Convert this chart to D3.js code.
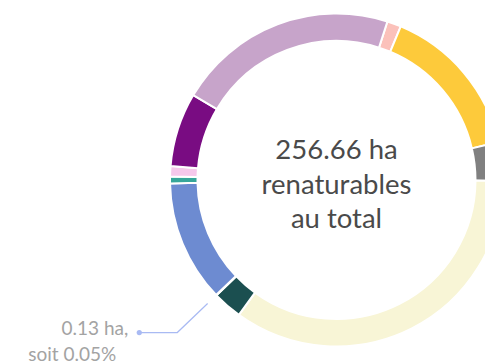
<!DOCTYPE html>
<html>
<head>
<meta charset="utf-8">
<script src="https://cdn.jsdelivr.net/npm/d3@7"></script>
<style>
  html, body { margin: 0; padding: 0; background: #fff; }
  svg { display: block; font-family: Lato, "Open Sans", sans-serif; }
</style>
</head>
<body>
<svg id="chart" width="485" height="363"></svg>
<script>
// Surfaces renaturables par catégorie (ha), ordre horaire
const categories = [
  "Catégorie 1", "Catégorie 2", "Catégorie 3", "Catégorie 4", "Catégorie 5",
  "Catégorie 6", "Catégorie 7", "Catégorie 8", "Catégorie 9", "Catégorie 10",
  "Catégorie 11"
];
const surfaces = [3.5, 38.6, 9.55, 89.58, 7.3, 0.13, 30.3, 1.7, 2.6, 18.4, 55.0];
const colors = [
  "#fbc1ba", "#fdca3b", "#808080", "#f8f5d6", "#1b4f50",
  "#a9baf3", "#6d8bd1", "#36a69a", "#f6c8eb", "#790c82", "#c7a4ca"
];
// Index de la tranche annotée
const labelledIndex = 5;

const width = 485, height = 363;
const cx = 336.5, cy = 180;
const outerR = 166.5, innerR = 139;
const startDeg = 17.8;

const svg = d3.select("#chart");
const total = d3.sum(surfaces);
const fmt = d3.format(".2f");

const data = categories.map((c, i) => ({ name: c, value: surfaces[i], color: colors[i] }));

const pie = d3.pie()
  .value(d => d.value)
  .sort(null)
  .startAngle(startDeg * Math.PI / 180)
  .endAngle(startDeg * Math.PI / 180 + 2 * Math.PI);

const arc = d3.arc().innerRadius(innerR).outerRadius(outerR);

const g = svg.append("g").attr("transform", `translate(${cx},${cy})`);

const arcs = pie(data);

g.selectAll("path.slice")
  .data(arcs)
  .join("path")
  .attr("class", "slice")
  .attr("d", arc)
  .attr("fill", d => d.data.color)
  .attr("stroke", "#fff")
  .attr("stroke-width", 2)
  .attr("stroke-linejoin", "round");

// Texte central
const center = g.append("text")
  .attr("text-anchor", "middle")
  .attr("fill", "#4a4a4a")
  .style("font-size", "27.5px");
const centerLines = [fmt(total) + " ha", "renaturables", "au total"];
centerLines.forEach((t, i) => {
  center.append("tspan")
    .attr("x", 0)
    .attr("y", -21 + i * 34.5)
    .text(t);
});

// Étiquette de la petite tranche avec ligne de rappel
const a = arcs[labelledIndex];
const mid = (a.startAngle + a.endAngle) / 2;
const polar = r => [r * Math.sin(mid), -r * Math.cos(mid)];
const p1 = polar(outerR + 12);
const p2 = polar(outerR + 54);
const p3 = [p2[0] - 38, p2[1]];

g.append("path")
  .attr("d", d3.line()([p1, p2, p3]))
  .attr("fill", "none")
  .attr("stroke", a.data.color)
  .attr("stroke-width", 1.2);

g.append("circle")
  .attr("cx", p3[0]).attr("cy", p3[1])
  .attr("r", 2.6)
  .attr("fill", a.data.color);

const pct = (a.data.value / total * 100).toFixed(2);
const lbl = g.append("text")
  .attr("fill", "#a3a3a3")
  .attr("text-anchor", "end")
  .style("font-size", "19px");
lbl.append("tspan")
  .attr("x", p3[0] - 11)
  .attr("y", p3[1] + 2.5)
  .text(`${a.data.value} ha,`);
lbl.append("tspan")
  .attr("x", p3[0] - 23)
  .attr("y", p3[1] + 28.5)
  .text(`soit ${pct}%`);
</script>
</body>
</html>
